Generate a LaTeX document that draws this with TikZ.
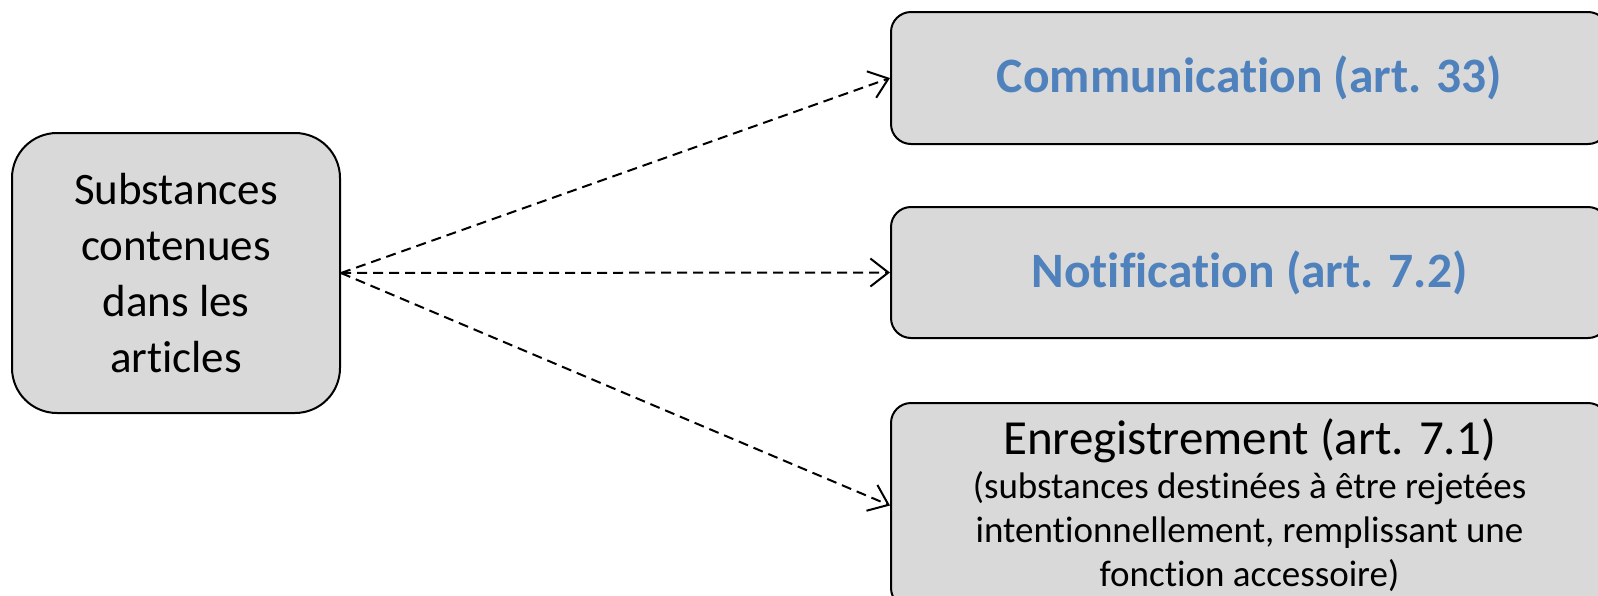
\documentclass[tikz,border=0pt]{standalone}
\usepackage{fontspec}
\setmainfont{Carlito}[Ligatures=NoCommon]
\usepackage{tikz}
\usetikzlibrary{positioning}
\usetikzlibrary{arrows.meta}
\definecolor{boxgray}{HTML}{D9D9D9}
\definecolor{titleblue}{HTML}{4F81BD}

\begin{document}
\begin{tikzpicture}[x=1pt, y=-1pt, >={Straight Barb[length=18pt,width=28pt]},
  box/.style={draw, line width=2pt, fill=boxgray, rounded corners=#1, align=center, inner sep=0pt},
  box/.default=20pt,
  link/.style={->, line width=2pt, dash pattern=on 10pt off 6pt}]

\useasboundingbox (0,0) rectangle (1598,595);
\clip (0,0) rectangle (1598,595);

% source
\node [box=45pt, minimum width=328pt, minimum height=280pt,
  font=\fontsize{45}{56}\selectfont] (src) at (176,273)
  {Substances\\contenues\\dans les\\articles};

% targets
\node [box, minimum width=717pt, minimum height=132pt,
  font=\fontsize{49.5}{55}\selectfont\bfseries, text=titleblue] (comm) at (1249.5,78)
  {Communication (art. 33)};
\node [box, minimum width=717pt, minimum height=131pt,
  font=\fontsize{49.5}{55}\selectfont\bfseries, text=titleblue] (notif) at (1249.5,272.5)
  {Notification (art. 7.2)};
\node [box, minimum width=717pt, minimum height=205pt,
  font=\fontsize{37}{44}\selectfont] (enreg) at (1249.5,505.5)
  {{\fontsize{49}{52}\selectfont Enregistrement (art. 7.1)}\\
   (substances destinées à être rejetées\\
   intentionnellement, remplissant une\\
   fonction accessoire)};

% dashed links
\draw [link] (src.east) -- (comm.west);
\draw [link] (src.east) -- (notif.west);
\draw [link] (src.east) -- (enreg.west);

\end{tikzpicture}
\end{document}
